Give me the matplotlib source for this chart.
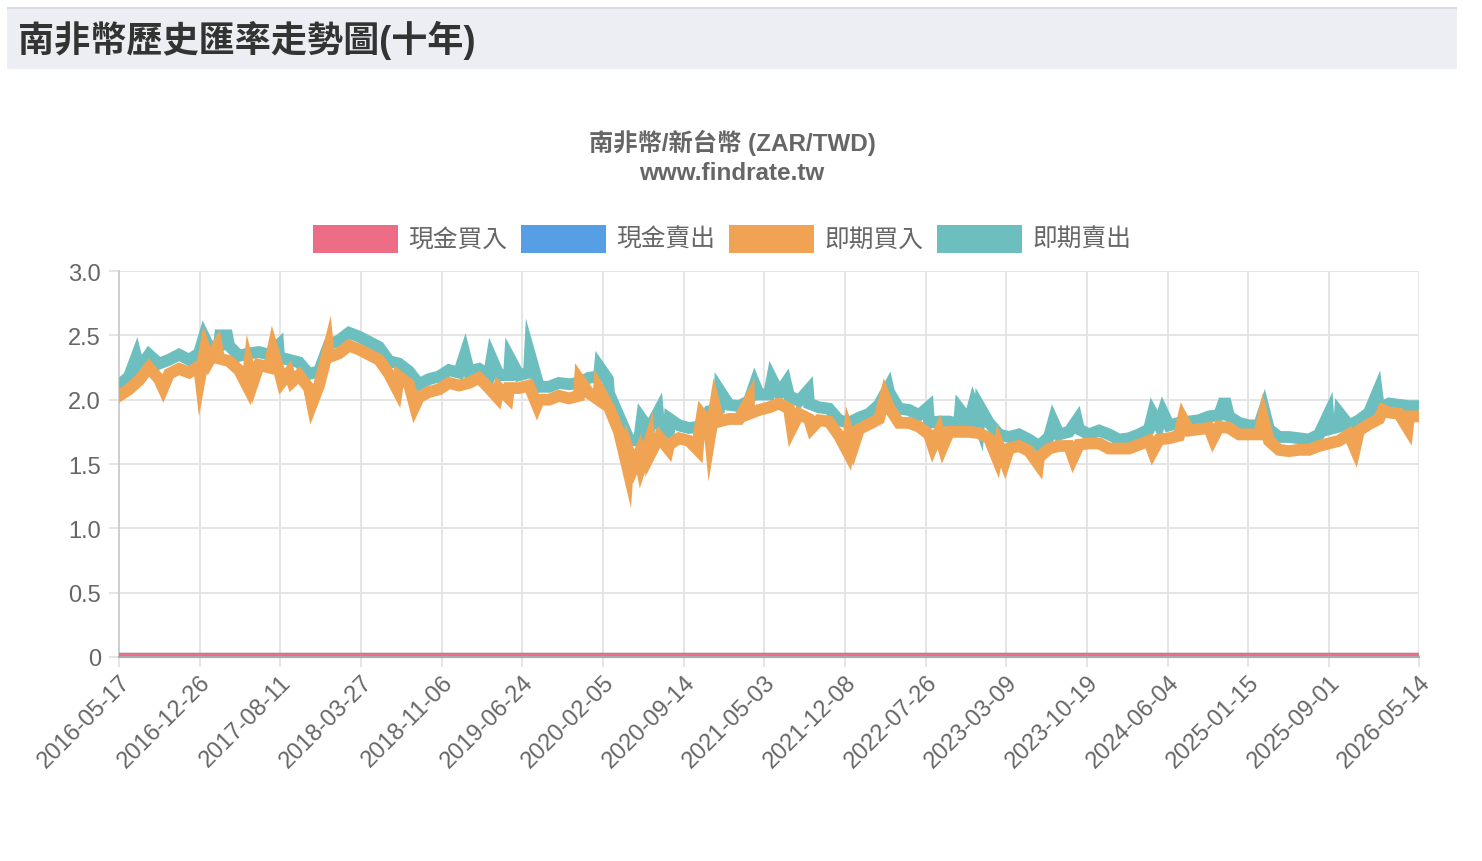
import numpy as np
import matplotlib
matplotlib.use('Agg')
import matplotlib.pyplot as plt
from matplotlib.patches import Rectangle

plt.rcParams['font.family'] = ['Liberation Sans', 'Noto Sans CJK TC', 'DejaVu Sans']

# --- data ---
n_days = 2418
tick_labels = ['2016-05-17', '2016-12-26', '2017-08-11', '2018-03-27', '2018-11-06',
               '2019-06-24', '2020-02-05', '2020-09-14', '2021-05-03', '2021-12-08',
               '2022-07-26', '2023-03-09', '2023-10-19', '2024-06-04', '2025-01-15',
               '2025-09-01', '2026-05-14']
tick_days = [0, 150, 300, 450, 600, 750, 900, 1050, 1200, 1350, 1500, 1650, 1800,
             1950, 2100, 2250, 2417]

# 即期賣出 (spot sell), roughly every 18-19 days
spot_sell = [2.11, 2.18, 2.24, 2.35, 2.28, 2.31, 2.35, 2.31, 2.36, 2.41,
             2.42, 2.42, 2.34, 2.36, 2.37, 2.35, 2.33, 2.31, 2.29, 2.20,
             2.22, 2.43, 2.46, 2.52, 2.49, 2.45, 2.41, 2.30, 2.28, 2.22,
             2.12, 2.16, 2.18, 2.23, 2.21, 2.22, 2.24, 2.19, 2.19, 2.19,
             2.19, 2.21, 2.10, 2.10, 2.13, 2.12, 2.13, 2.17, 2.18, 2.05,
             1.87, 1.69, 1.68, 1.77, 1.81, 1.75, 1.80, 1.78, 1.79, 1.91,
             1.93, 1.96, 1.95, 1.99, 2.04, 2.04, 2.05, 2.03, 1.99, 1.97,
             1.94, 1.93, 1.84, 1.82, 1.86, 1.89, 1.96, 2.06, 1.93, 1.92,
             1.88, 1.82, 1.83, 1.83, 1.81, 1.83, 1.82, 1.82, 1.73, 1.71,
             1.73, 1.69, 1.64, 1.71, 1.73, 1.75, 1.77, 1.73, 1.76, 1.73,
             1.69, 1.70, 1.73, 1.77, 1.80, 1.80, 1.82, 1.83, 1.84, 1.87,
             1.88, 1.87, 1.82, 1.80, 1.80, 1.77, 1.71, 1.71, 1.70, 1.69,
             1.73, 1.77, 1.79, 1.80, 1.84, 1.90, 1.93, 1.97, 1.96, 1.95,
             1.95]

# 即期買入 (spot buy)
spot_buy = [2.03, 2.08, 2.15, 2.25, 2.16, 2.20, 2.24, 2.21, 2.26, 2.30,
            2.32, 2.30, 2.23, 2.25, 2.27, 2.25, 2.23, 2.21, 2.19, 2.09,
            2.11, 2.33, 2.36, 2.42, 2.39, 2.35, 2.31, 2.20, 2.18, 2.12,
            2.02, 2.06, 2.08, 2.13, 2.11, 2.13, 2.17, 2.09, 2.09, 2.09,
            2.09, 2.11, 2.00, 2.00, 2.03, 2.01, 2.03, 2.05, 2.08, 1.94,
            1.75, 1.59, 1.58, 1.67, 1.71, 1.65, 1.70, 1.68, 1.73, 1.81,
            1.83, 1.85, 1.85, 1.89, 1.92, 1.94, 1.97, 1.93, 1.89, 1.85,
            1.84, 1.83, 1.72, 1.73, 1.77, 1.81, 1.85, 1.94, 1.82, 1.82,
            1.79, 1.73, 1.75, 1.75, 1.75, 1.75, 1.74, 1.70, 1.64, 1.62,
            1.64, 1.60, 1.55, 1.62, 1.64, 1.64, 1.65, 1.66, 1.66, 1.62,
            1.62, 1.62, 1.65, 1.68, 1.69, 1.70, 1.72, 1.76, 1.77, 1.78,
            1.79, 1.78, 1.73, 1.73, 1.73, 1.68, 1.61, 1.60, 1.61, 1.61,
            1.64, 1.66, 1.68, 1.73, 1.76, 1.81, 1.85, 1.90, 1.89, 1.87,
            1.87]

# one-day jumps
sell_spike_days = [32, 158, 188, 201, 296, 643, 693, 727, 764, 894, 909, 972, 1002,
                   1024, 1117, 1182, 1214, 1240, 1281, 1430, 1504, 1564, 1588, 1601,
                   1737, 1781, 1922, 1941, 2053, 2058, 2129, 2248, 2270, 2339]
sell_spike_vals = [2.33, 2.49, 2.50, 2.50, 2.42, 2.35, 2.32, 2.32, 2.35, 2.25, 2.16, 1.85, 1.90,
                   1.85, 2.07, 2.12, 2.16, 2.13, 2.07, 2.09, 1.94, 1.92, 1.95, 1.94,
                   1.83, 1.84, 1.89, 1.90, 1.97, 1.97, 1.92, 1.88, 1.89, 2.05]
buy_spike_days = [82, 151, 160, 182, 238, 249, 286, 303, 322, 359, 389, 517, 550,
                  703, 723, 777, 857, 891, 946, 957, 971, 987, 1021, 1076, 1084,
                  1099, 1108, 1171, 1251, 1288, 1354, 1365, 1424, 1513, 1532, 1632,
                  1647, 1709, 1774, 1922, 1978, 2034, 2127, 2298, 2350, 2396]
buy_spike_vals = [2.09, 2.18, 2.39, 2.41, 2.11, 2.13, 2.39, 2.14, 2.14, 1.97, 2.39, 2.08, 1.95,
                  2.02, 2.02, 1.96, 2.15, 2.00, 1.46, 1.48, 1.49, 1.57, 1.62, 1.61, 1.88,
                  1.72, 1.95, 1.99, 1.78, 1.78, 1.60, 1.63, 2.02, 1.64, 1.64, 1.55,
                  1.52, 1.50, 1.55, 1.60, 1.85, 1.70, 1.86, 1.62, 1.92, 1.78]

cash_buy = [0.0, 0.0]
cash_sell = [0.0, 0.0]

series_names = ['現金買入', '現金賣出', '即期買入', '即期賣出']
colors = ['#ee6d86', '#579fe4', '#f1a354', '#6dbfbf']


def merge(base, sdays, svals):
    bx = np.linspace(0, n_days - 1, len(base))
    x = np.concatenate([bx, sdays])
    y = np.concatenate([base, svals])
    o = np.argsort(x, kind='stable')
    return x[o], y[o]


W, H = 1482, 862
fig = plt.figure(figsize=(W / 100, H / 100), dpi=100)

# page header
fig.patches.append(Rectangle((7 / W, 1 - 70 / H), 1450 / W, 62 / H, transform=fig.transFigure,
                             facecolor='#eceef3', edgecolor='none'))
fig.patches.append(Rectangle((7 / W, 1 - 10 / H), 1450 / W, 2 / H, transform=fig.transFigure,
                             facecolor='#d7dbe2', edgecolor='none'))
fig.text(18 / W, 1 - 40 / H, '南非幣歷史匯率走勢圖(十年)', fontsize=26, fontweight='bold',
         color='#333333', va='center', ha='left')

# chart title
fig.text(732 / W, 1 - 143 / H, '南非幣/新台幣 (ZAR/TWD)', fontsize=17.5, fontweight='bold',
         color='#666666', ha='center', va='center')
fig.text(732 / W, 1 - 173 / H, 'www.findrate.tw', fontsize=17.5, fontweight='bold',
         color='#666666', ha='center', va='center')

# legend
box_x = [313, 521, 729, 937]
for bx, name, c in zip(box_x, series_names, colors):
    fig.patches.append(Rectangle((bx / W, 1 - 254 / H), 85 / W, 28 / H, transform=fig.transFigure,
                                 facecolor=c, edgecolor='none'))
    fig.text((bx + 95) / W, 1 - 240 / H, name, fontsize=17.8, color='#666666',
             ha='left', va='center')

ax = fig.add_axes([119 / W, 1 - 658 / H, 1300 / W, 386 / H])

lw = 8.5
xs, ys = merge(spot_sell, sell_spike_days, sell_spike_vals)
ax.plot(xs, ys, color=colors[3], lw=lw, solid_joinstyle='miter', zorder=3)
xb, yb = merge(spot_buy, buy_spike_days, buy_spike_vals)
ax.plot(xb, yb, color=colors[2], lw=lw, solid_joinstyle='miter', zorder=4)
ax.plot([0, n_days - 1], cash_sell, color=colors[1], lw=6, zorder=5)
ax.plot([0, n_days - 1], cash_buy, color=colors[0], lw=6, zorder=6)

ax.set_xlim(0, n_days - 1)
ax.set_ylim(0, 3.0)
ax.set_yticks(np.arange(0, 3.01, 0.5))
ax.set_yticklabels(['0', '0.5', '1.0', '1.5', '2.0', '2.5', '3.0'])
ax.set_xticks(tick_days)
ax.set_xticklabels(tick_labels, rotation=45, ha='right', va='top', rotation_mode='anchor')

ax.grid(True, color='#e3e3e3', lw=1.3, zorder=0)
ax.set_axisbelow(True)
for s in ['top', 'right']:
    ax.spines[s].set_visible(False)
ax.spines['left'].set_color('#cccccc')
ax.spines['left'].set_linewidth(1.3)
ax.spines['bottom'].set_color('#aaaaaa')
ax.spines['bottom'].set_linewidth(1.5)
ax.spines['bottom'].set_zorder(10)
ax.tick_params(axis='both', length=7, width=1.3, color='#e3e3e3', labelcolor='#666666',
               labelsize=17)
ax.tick_params(axis='y', pad=6)
ax.tick_params(axis='x', pad=3)

fig.savefig('out.png', dpi=100)
